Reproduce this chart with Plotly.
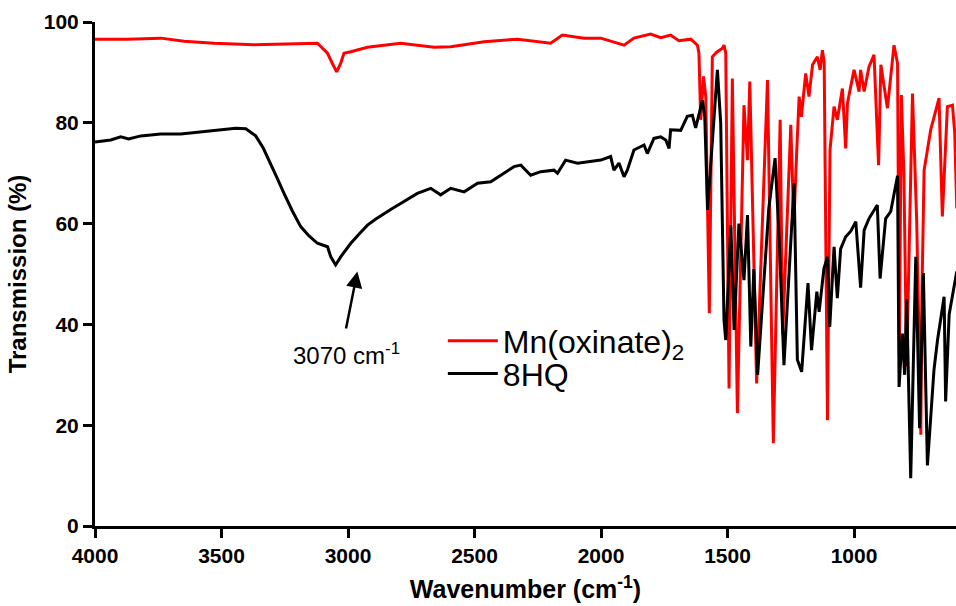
import plotly.graph_objects as go

# ---------------- data ----------------
x_ticks = [4000, 3500, 3000, 2500, 2000, 1500, 1000]
y_ticks = [0, 20, 40, 60, 80, 100]

# Mn(oxinate)2  (red)
red_wn = [4000, 3872, 3740, 3648, 3530, 3372, 3121, 3081, 3062, 3045,
          3029, 3016, 2989, 2923, 2792, 2660, 2594, 2462, 2330, 2199,
          2153, 2067, 2001, 1935, 1909, 1870, 1804, 1764, 1725, 1692,
          1645, 1619, 1613, 1606, 1595, 1586, 1572, 1560, 1543, 1520,
          1514, 1507, 1494, 1481, 1461, 1435, 1421, 1412, 1385, 1342,
          1319, 1292, 1282, 1250, 1238, 1226, 1217, 1208, 1191, 1178,
          1164, 1145, 1134, 1125, 1118, 1105, 1095, 1079, 1066, 1046,
          1033, 1026, 1000, 980, 974, 960, 941, 921, 903, 894,
          868, 842, 828, 821, 813, 803, 792, 769, 752, 736,
          732, 723, 697, 664, 651, 631, 611, 602, 594]
red_t = [96.6, 96.6, 96.8, 96.2, 95.8, 95.5, 95.8, 93.8, 91.8, 90.1,
         91.8, 93.8, 94.1, 95.0, 95.8, 95.0, 95.1, 96.1, 96.6, 95.8,
         97.4, 96.8, 96.8, 95.8, 95.4, 96.8, 97.6, 96.9, 97.4, 96.3,
         96.6, 95.4, 93.8, 80.6, 89.2, 85.2, 42.2, 93.1, 94.0, 94.8,
         95.4, 93.8, 27.3, 88.8, 22.4, 83.5, 72.6, 88.2, 28.3, 88.5,
         16.4, 80.6, 38.0, 79.6, 60.0, 75.0, 85.2, 81.2, 89.8, 85.2,
         91.5, 93.1, 90.5, 94.4, 92.0, 21.0, 74.6, 83.2, 80.6, 86.8,
         74.9, 83.9, 90.5, 86.2, 90.5, 86.2, 91.1, 93.5, 71.6, 91.5,
         82.9, 95.4, 91.8, 33.6, 85.5, 70.0, 31.6, 85.8, 60.0, 18.1,
         45.0, 70.6, 78.6, 84.9, 61.4, 83.2, 83.5, 78.0, 63.0]

# 8HQ  (black)
black_wn = [4000, 3938, 3898, 3867, 3819, 3740, 3661, 3582, 3503, 3444,
            3404, 3365, 3335, 3306, 3280, 3253, 3220, 3187, 3155, 3121,
            3100, 3081, 3068, 3049, 3029, 2989, 2955, 2923, 2890, 2858,
            2825, 2792, 2760, 2726, 2673, 2634, 2594, 2541, 2488, 2436,
            2396, 2344, 2317, 2278, 2238, 2186, 2172, 2140, 2093, 2054,
            2001, 1962, 1949, 1929, 1909, 1896, 1870, 1830, 1817, 1791,
            1764, 1744, 1731, 1725, 1685, 1659, 1639, 1626, 1613, 1599,
            1590, 1579, 1566, 1540, 1527, 1514, 1507, 1487, 1474, 1455,
            1435, 1421, 1408, 1396, 1381, 1361, 1337, 1312, 1294, 1277,
            1250, 1237, 1224, 1207, 1182, 1168, 1147, 1138, 1119, 1105,
            1096, 1079, 1066, 1053, 1033, 1013, 993, 974, 960, 941,
            908, 897, 875, 855, 828, 822, 809, 800, 792, 776,
            756, 741, 726, 710, 684, 670, 644, 638, 624, 594]
black_t = [76.2, 76.6, 77.2, 76.8, 77.4, 77.8, 77.8, 78.2, 78.6, 78.9,
           78.8, 77.4, 75.0, 72.0, 69.0, 66.0, 62.5, 59.4, 57.6, 56.1,
           55.8, 55.4, 53.4, 51.8, 53.4, 56.1, 58.0, 59.7, 60.9, 62.0,
           63.0, 64.0, 65.0, 66.0, 67.0, 65.7, 67.0, 66.3, 68.0, 68.3,
           69.6, 71.3, 71.6, 69.6, 70.3, 70.6, 70.0, 72.6, 72.0, 72.3,
           72.6, 73.3, 70.6, 72.0, 69.3, 70.6, 74.6, 75.6, 73.9, 76.9,
           77.2, 76.6, 74.9, 78.6, 78.5, 81.3, 81.5, 79.0, 81.5, 84.5,
           81.2, 62.7, 72.0, 90.5, 80.0, 40.9, 36.9, 59.7, 38.9, 60.0,
           48.8, 61.7, 35.6, 51.0, 30.0, 45.0, 63.0, 73.0, 55.0, 31.9,
           56.7, 68.0, 33.0, 30.6, 48.2, 34.9, 46.5, 42.5, 51.1, 53.4,
           39.5, 55.4, 45.2, 55.0, 57.4, 58.5, 60.4, 47.3, 58.7, 61.0,
           63.7, 49.1, 61.0, 62.4, 69.5, 27.6, 38.2, 30.0, 45.0, 9.5,
           53.4, 19.4, 50.2, 12.0, 31.0, 36.9, 45.5, 24.7, 42.0, 50.5]

FONT = "Liberation Sans, Arial, Helvetica, sans-serif"

fig = go.Figure()
fig.add_trace(go.Scatter(x=red_wn, y=red_t, mode="lines",
                         line=dict(color="#ff0000", width=3),
                         name="Mn(oxinate)<sub>2</sub>", legend="legend"))
fig.add_trace(go.Scatter(x=black_wn, y=black_t, mode="lines",
                         line=dict(color="#000000", width=3),
                         name="8HQ", legend="legend2"))

axis_common = dict(
    showline=True, linewidth=3, linecolor="black",
    ticks="outside", ticklen=9, tickwidth=3, tickcolor="black",
    showgrid=False, zeroline=False,
    tickfont=dict(family=FONT, size=21, color="black", weight="bold"),
)

fig.update_layout(
    width=956, height=606,
    margin=dict(l=95, r=0, t=22, b=80),
    paper_bgcolor="white", plot_bgcolor="white",
    xaxis=dict(range=[4000, 597], tickmode="array", tickvals=x_ticks,
               automargin=False,
               title=dict(text="Wavenumber (cm<sup>-1</sup>)",
                          font=dict(family=FONT, size=25, color="black", weight="bold")),
               **axis_common),
    yaxis=dict(range=[0, 100], tickmode="array", tickvals=y_ticks,
               automargin=True,
               title=dict(text="Transmission (%)", standoff=11,
                          font=dict(family=FONT, size=24, color="black", weight="bold")),
               **axis_common),
    legend=dict(x=0.404, y=0.367, xanchor="left", yanchor="middle",
                bgcolor="rgba(0,0,0,0)", itemwidth=50,
                font=dict(family=FONT, size=32, color="black")),
    legend2=dict(x=0.404, y=0.302, xanchor="left", yanchor="middle",
                 bgcolor="rgba(0,0,0,0)", itemwidth=50,
                 font=dict(family=FONT, size=32, color="black")),
    showlegend=True,
    hovermode=False,
)

# arrow pointing at the 3070 cm-1 band
fig.add_annotation(x=2963, y=50.5, ax=3009, ay=38.9, xref="x", yref="y",
                   axref="x", ayref="y", text="", showarrow=True,
                   arrowhead=2, arrowsize=1.3, arrowwidth=2.5, arrowcolor="black")
fig.add_annotation(x=3005, y=34.1, xref="x", yref="y", showarrow=False,
                   text="3070 cm<sup>-1</sup>",
                   font=dict(family=FONT, size=24, color="black"))

# remove the default page margin so the figure fills the window exactly
fig.write_html("out.html",
               config={"displayModeBar": False},
               post_script="document.body.style.margin='0';"
                           "document.body.style.overflow='hidden';")
